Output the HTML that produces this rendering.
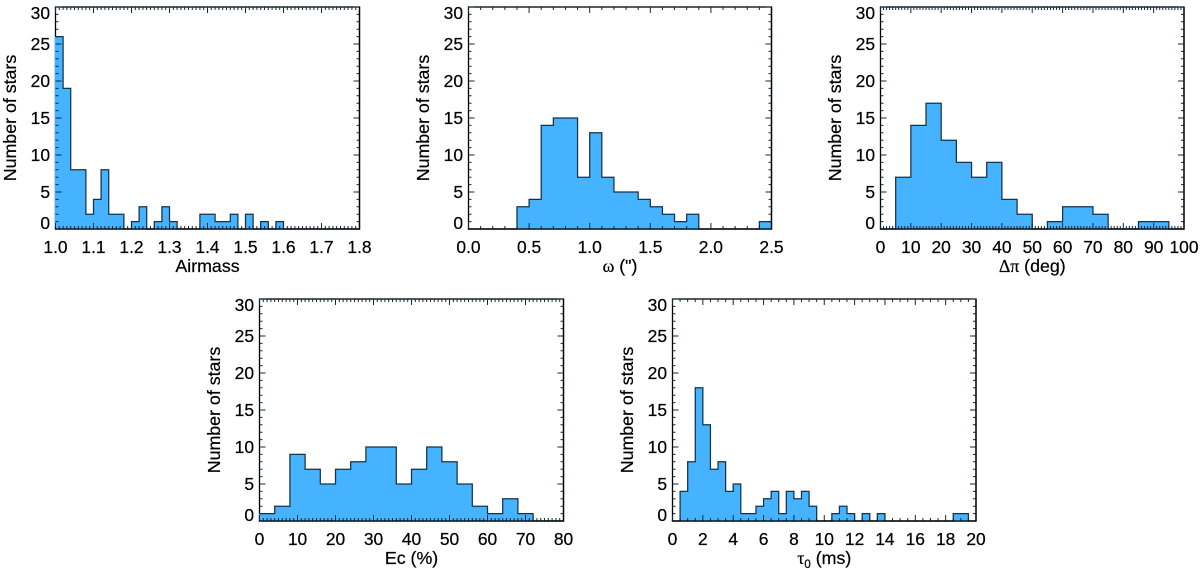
<!DOCTYPE html>
<html lang="en">
<head>
<meta charset="utf-8">
<title>Histograms of observing conditions</title>
<style>
html,body{margin:0;padding:0;background:#fff;width:1200px;height:570px;overflow:hidden}
svg{display:block}
text{font-family:"Liberation Sans",sans-serif;fill:#000;stroke:#000;stroke-width:.22px}
.tick{font-size:17.4px}
.title{font-size:17.8px}
</style>
</head>
<body>
<svg id="figure" xmlns="http://www.w3.org/2000/svg" width="1200" height="570" viewBox="0 0 1200 570"></svg>
<script>
const yTickLabels = [0, 5, 10, 15, 20, 25, 30];

const airmassCounts = [26,19,8,8,2,4,8,2,2,0,1,3,0,1,3,1,0,0,0,2,2,1,1,2,0,2,0,1,0,1,0,0,0,0,0,0,0,0,0,0];
const airmassTicks = ["1.0","1.1","1.2","1.3","1.4","1.5","1.6","1.7","1.8"];

const seeingCounts = [0,0,0,0,3,4,14,15,15,7,13,7,5,5,4,3,2,1,2,0,0,0,0,0,1];
const seeingTicks = ["0.0","0.5","1.0","1.5","2.0","2.5"];

const deltaCounts = [0,7,14,17,12,9,7,9,4,2,0,1,3,3,2,0,0,1,1,0];
const deltaTicks = ["0","10","20","30","40","50","60","70","80","90","100"];

const ecCounts = [1,2,9,7,5,7,8,10,10,5,7,10,8,5,2,1,3,1,0,0];
const ecTicks = ["0","10","20","30","40","50","60","70","80"];

const tauCounts = [0,4,8,18,13,7,8,4,5,1,1,2,3,4,1,4,3,4,2,0,0,1,2,1,0,1,0,1,0,0,0,0,0,0,0,0,0,1,1,0];
const tauTicks = ["0","2","4","6","8","10","12","14","16","18","20"];

const SVG_NS = "http://www.w3.org/2000/svg";
const fig = document.getElementById("figure");
const Y_MAX = 30;

function mk(tag, attrs, parent) {
  const el = document.createElementNS(SVG_NS, tag);
  for (const k in attrs) el.setAttribute(k, attrs[k]);
  parent.appendChild(el);
  return el;
}

function drawPanel(p) {
  const g = mk("g", {}, fig);
  
  

  const w = p.x1 - p.x0;
  const h = p.yb - p.yt;
  const nMajor = p.ticks.length - 1;
  const xScale = i => p.x0 + w * i;          // i is a fraction of the axis range
  const yScale = v => p.yb - h * v / Y_MAX;

  // frame, beneath the histogram fill
  const frame = mk("rect", {x: p.x0, y: p.yt, width: w, height: h, fill: "none", stroke: "#000", "stroke-width": 1.3}, g);
  
  

  // histogram fill and open outline
  const n = p.counts.length;
  let top = "";
  p.counts.forEach((c, i) => {
    top += (i === 0 ? "M" : "L") + xScale(i / n).toFixed(2) + " " + yScale(c).toFixed(2);
    top += "L" + xScale((i + 1) / n).toFixed(2) + " " + yScale(c).toFixed(2);
  });
  const fillPath = "M" + (p.x0 - 0.7) + " " + yScale(0) +
    "L" + (p.x0 - 0.7) + " " + yScale(p.counts[0]).toFixed(2) + top.replace(/^M/, "L") +
    "L" + xScale(1) + " " + yScale(0) + "Z";
  const fill = mk("path", {d: fillPath, fill: "#45b3ff", stroke: "none"}, g);
  
  

  const outline = mk("path", {d: top, fill: "none", stroke: "#16324a", "stroke-width": 1.25}, g);
  
  

  // ticks
  let t = "";
  const nx = nMajor * p.minor;
  for (let i = 0; i <= nx; i++) {
    const x = xScale(i / nx).toFixed(2);
    const len = i % p.minor === 0 ? 6 : 3;
    t += "M" + x + " " + p.yb + "v" + (-len) + "M" + x + " " + p.yt + "v" + len;
  }
  for (let v = 0; v <= Y_MAX; v++) {
    const y = yScale(v).toFixed(2);
    const len = v % 5 === 0 ? 6 : 3;
    t += "M" + p.x0 + " " + y + "h" + len + "M" + p.x1 + " " + y + "h" + (-len);
  }
  const tickPath = mk("path", {d: t, stroke: "#0c2a40", "stroke-width": 1, fill: "none"}, g);
  
  

  // bottom and right axis lines, redrawn above the fill
  const edge = "M" + (p.x0 - 0.65) + " " + p.yb + "H" + p.x1 + "V" + p.yt;
  const axisEdge = mk("path", {d: edge, fill: "none", stroke: "#000", "stroke-width": 1.3}, g);
  
  

  // x tick labels
  p.ticks.forEach((lab, i) => {
    const tx = mk("text", {x: xScale(i / nMajor).toFixed(2), y: p.yb + 24, "text-anchor": "middle", class: "tick"}, g);
    tx.textContent = lab;
    
    
  });

  // y tick labels (the end labels sit inside the axis span)
  yTickLabels.forEach(v => {
    let by = yScale(v) + 6;
    if (v === 0) by = p.yb;
    if (v === Y_MAX) by = p.yt + 12;
    const ty = mk("text", {x: p.x0 - 5.5, y: by.toFixed(2), "text-anchor": "end", class: "tick"}, g);
    ty.textContent = String(v);
    
    
  });

  // y title
  const yc = (p.yt + p.yb) / 2;
  const yx = p.x0 - 39.5;
  const yt = mk("text", {x: yx, y: yc, "text-anchor": "middle", class: "title", transform: "rotate(-90 " + yx + " " + yc + ")"}, g);
  yt.textContent = "Number of stars";
  
  

  // x title
  const xt = mk("text", {x: (p.x0 + p.x1) / 2, y: p.yb + 43, "text-anchor": "middle", class: "title"}, g);
  p.title.forEach(part => {
    const s = mk("tspan", {}, xt);
    s.textContent = part.t;
    if (part.greek) s.setAttribute("style", 'font-family:"Liberation Serif",serif');
    if (part.sub) {
      s.setAttribute("style", "font-size:11.5px");
      s.setAttribute("dy", "4");
    }
    if (part.up) s.setAttribute("dy", "-4");
  });
  
  
}

drawPanel({name: "airmass", counts: airmassCounts, ticks: airmassTicks, minor: 10, x0: 55.5, x1: 359.5, yt: 7, yb: 229, title: [{t: "Airmass"}]});
drawPanel({name: "seeing", counts: seeingCounts, ticks: seeingTicks, minor: 5, x0: 468.5, x1: 771.5, yt: 7, yb: 229, title: [{t: "\u03C9", greek: true}, {t: " (\")"}]});
drawPanel({name: "delta-pi", counts: deltaCounts, ticks: deltaTicks, minor: 10, x0: 880.5, x1: 1184, yt: 7, yb: 229, title: [{t: "\u0394\u03C0", greek: true}, {t: " (deg)"}]});
drawPanel({name: "ec", counts: ecCounts, ticks: ecTicks, minor: 10, x0: 259.5, x1: 563.5, yt: 299, yb: 521, title: [{t: "Ec (%)"}]});
drawPanel({name: "tau", counts: tauCounts, ticks: tauTicks, minor: 4, x0: 672.5, x1: 976, yt: 299, yb: 521, title: [{t: "\u03C4", greek: true}, {t: "0", sub: true}, {t: " (ms)", up: true}]});
</script>
</body>
</html>
